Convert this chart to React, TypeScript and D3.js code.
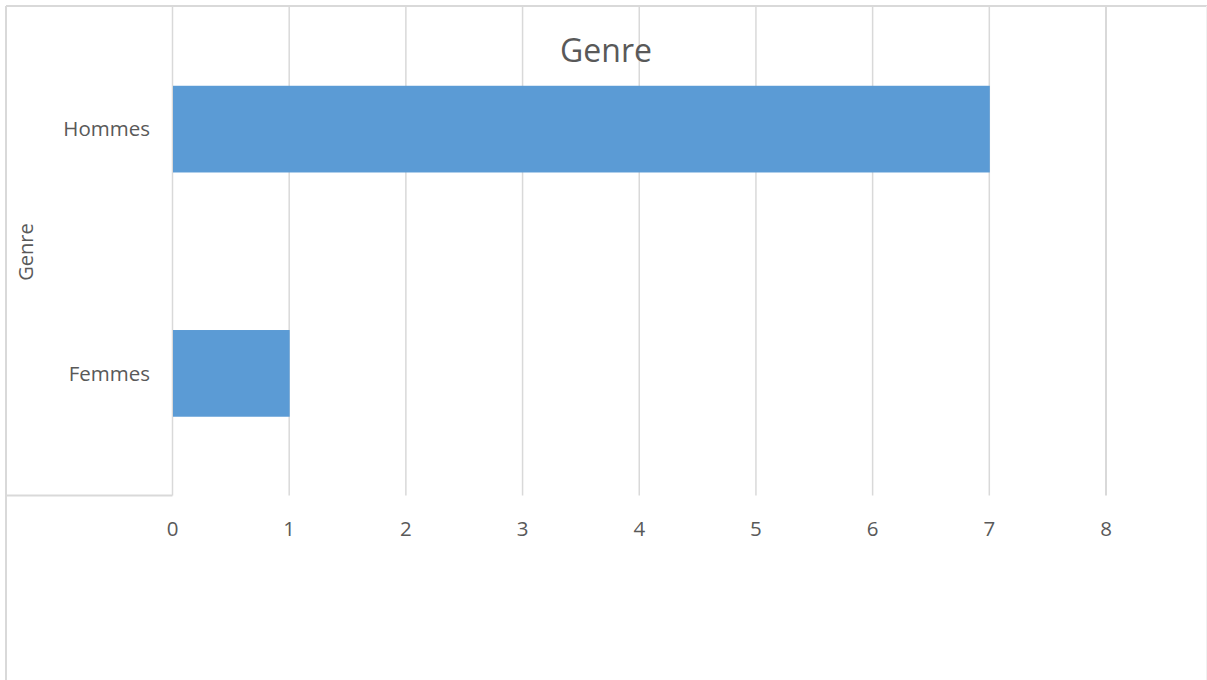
import React from "react";
import * as d3 from "d3";

const categories = ["Hommes", "Femmes"];
const values = [7, 1];
const xTicks = [0, 1, 2, 3, 4, 5, 6, 7, 8];
const chartTitle = "Genre";
const axisTitle = "Genre";

export default function App() {
  const W = 1207;
  const H = 680;
  const left = 172.5;
  const right = 1106;
  const top = 7;
  const bottom = 495.5;
  const font = "'Open Sans', 'Noto Sans', sans-serif";
  const textColor = "#595959";
  const grid = "#d9d9d9";

  const x = d3.scaleLinear().domain([0, 8]).range([left, right]);
  const y = d3
    .scaleBand<string>()
    .domain(categories)
    .range([top, bottom])
    .paddingInner(0.645)
    .paddingOuter(0.3225);

  return (
    <svg
      width={W}
      height={H}
      style={{ position: "absolute", left: 0, top: 0, background: "#fff" }}
    >
      <rect x={0} y={0} width={W} height={H} fill="#fff" />
      {/* outer border */}
      <line x1={6} y1={6} x2={W} y2={6} stroke={grid} strokeWidth={2} />
      <line x1={6} y1={6} x2={6} y2={H} stroke={grid} strokeWidth={2} />
      <line x1={1206.5} y1={6} x2={1206.5} y2={H} stroke="#f0f0f0" strokeWidth={1} />
      {/* category box bottom */}
      <line x1={6} y1={bottom} x2={left} y2={bottom} stroke={grid} strokeWidth={2} />
      {/* gridlines */}
      {xTicks.map((t) => (
        <line
          key={t}
          x1={x(t)}
          x2={x(t)}
          y1={top}
          y2={bottom}
          stroke={grid}
          strokeWidth={t === 8 ? 2 : 1.5}
        />
      ))}
      {/* bars */}
      {categories.map((c, i) => (
        <rect
          key={c}
          x={x(0) + 0.5}
          y={y(c)}
          width={x(values[i]) - x(0)}
          height={y.bandwidth()}
          fill="#5b9bd5"
        />
      ))}
      {/* category labels */}
      {categories.map((c) => (
        <text
          key={c}
          x={150}
          y={(y(c) as number) + y.bandwidth() / 2}
          dy="0.35em"
          textAnchor="end"
          fontFamily={font}
          fontSize={20.5}
          fill={textColor}
        >
          {c}
        </text>
      ))}
      {/* x tick labels */}
      {xTicks.map((t) => (
        <text
          key={t}
          x={x(t)}
          y={535.5}
          textAnchor="middle"
          fontFamily={font}
          fontSize={20.5}
          fill={textColor}
        >
          {t}
        </text>
      ))}
      {/* title */}
      <text
        x={606}
        y={61.5}
        textAnchor="middle"
        fontFamily={font}
        fontSize={32}
        fill={textColor}
      >
        {chartTitle}
      </text>
      {/* axis title */}
      <text
        transform="translate(33,252) rotate(-90)"
        textAnchor="middle"
        fontFamily={font}
        fontSize={20}
        fill={textColor}
      >
        {axisTitle}
      </text>
    </svg>
  );
}
